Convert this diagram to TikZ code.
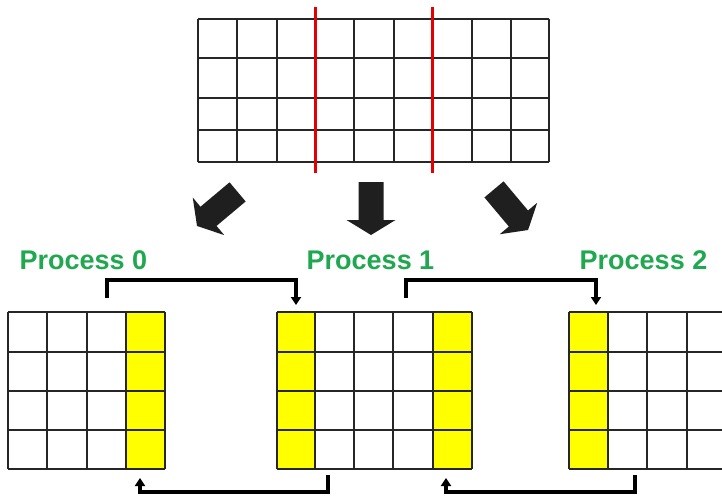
\documentclass[tikz,border=0pt]{standalone}
\usepackage{fontspec}
\setmainfont{Liberation Sans}
\usetikzlibrary{arrows.meta}
\definecolor{procgreen}{RGB}{32,168,80}
\definecolor{cutred}{RGB}{226,0,0}
\definecolor{ghost}{RGB}{255,255,0}
\tikzset{
  gridline/.style={draw=black!85, line width=1.3pt},
  cutline/.style={draw=cutred, line width=3pt},
  ghostcell/.style={fill=ghost, draw=black!85, line width=1.3pt},
  proclabel/.style={anchor=base, text=procgreen, font=\fontsize{27}{30}\selectfont\bfseries, inner sep=0pt},
  conn/.style={draw=black, line width=3.2pt, -{Triangle[length=8pt,width=10pt]}},
  blockarrow/.style={fill=black!88, draw=none}
}
\newcommand{\blockarr}[3]{%
  \begin{scope}[shift={(#1,#2)}, rotate=#3]
    \fill[blockarrow] (0,-12.5) -- (38,-12.5) -- (38,-24.5) -- (53,0) -- (38,24.5) -- (38,12.5) -- (0,12.5) -- cycle;
  \end{scope}}
\begin{document}
\begin{tikzpicture}[x=1pt, y=-1pt]
\useasboundingbox (0,0) rectangle (722,495);
\clip (0,0) rectangle (722,495);
% top grid
\foreach \yy in {19,58,98,130,162} \draw[gridline] (198,\yy) -- (549,\yy);
\foreach \xx in {198,237,277,315,354,394,432,472,511,549} \draw[gridline] (\xx,19) -- (\xx,162);
\draw[cutline] (315,7) -- (315,173);
\draw[cutline] (432,7) -- (432,173);
% block arrows
\blockarr{237.6}{191.9}{220}
\blockarr{371}{182}{-90}
\blockarr{494}{189.4}{-50}
% labels
\node[proclabel] (p0) at (83.5,269) {Process 0};
\node[proclabel] (p1) at (370.5,269) {Process 1};
\node[proclabel] (p2) at (643.5,269) {Process 2};
% process 0 grid
\foreach \yy in {312,352,391,430} \fill[ghost] (126,\yy) rectangle ++(39,39);
\foreach \yy in {312,352,391,430,469} \draw[gridline] (8,\yy) -- (165,\yy);
\foreach \xx in {8,47,87,126,165} \draw[gridline] (\xx,312) -- (\xx,469);
% process 1 grid
\foreach \yy in {312,352,391,430} {\fill[ghost] (277,\yy) rectangle ++(38,39); \fill[ghost] (433,\yy) rectangle ++(39,39);}
\foreach \yy in {312,352,391,430,469} \draw[gridline] (277,\yy) -- (472,\yy);
\foreach \xx in {277,315,354,393,433,472} \draw[gridline] (\xx,312) -- (\xx,469);
% process 2 grid
\foreach \yy in {312,352,391,430} \fill[ghost] (569,\yy) rectangle ++(39,39);
\foreach \yy in {312,352,391,430,469} \draw[gridline] (569,\yy) -- (730,\yy);
\foreach \xx in {569,608,647,687,726} \draw[gridline] (\xx,312) -- (\xx,469);
% connectors
\coordinate (c01s) at (107,298);
\coordinate (c01e) at (296,305);
\coordinate (c12s) at (406,298);
\coordinate (c12e) at (596,305);
\coordinate (c10s) at (328,475);
\coordinate (c10e) at (140,478);
\coordinate (c21s) at (635,475);
\coordinate (c21e) at (446,478);
\draw[conn] (c01s) -- ++(0,-18) -| (c01e);
\draw[conn] (c12s) -- ++(0,-18) -| (c12e);
\draw[conn] (c10s) -- ++(0,17) -| (c10e);
\draw[conn] (c21s) -- ++(0,17) -| (c21e);
\end{tikzpicture}
\end{document}
